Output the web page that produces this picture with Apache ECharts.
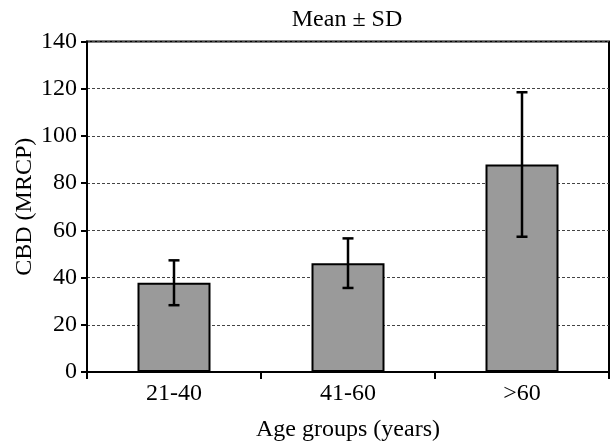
<!DOCTYPE html>
<html><head><meta charset="utf-8">
<script src="https://cdn.jsdelivr.net/npm/echarts@6/dist/echarts.min.js"></script>
<style>html,body{margin:0;padding:0;background:#fff}#c{width:612px;height:447px}</style>
</head><body><div id="c"></div>
<script>
const categories = ['21-40', '41-60', '>60'];
const means = [37.8, 46.1, 87.9];
const sds = [9.5, 10.5, 30.6];
const yTicks = [0, 20, 40, 60, 80, 100, 120, 140];

const F = 'Liberation Serif, Times New Roman, serif';
const FS = 24;
const chart = echarts.init(document.getElementById('c'), null, {renderer: 'canvas'});
const errData = categories.map((c, i) => [i, means[i] - sds[i], means[i] + sds[i]]);
chart.setOption({
  animation: false,
  title: {
    text: 'Mean \u00b1 SD', left: 342, top: 3, textAlign: 'center',
    textStyle: {fontFamily: F, fontSize: FS, fontWeight: 'normal', color: '#000'}
  },
  grid: {left: 87, right: 3, top: 41.5, bottom: 73.5, show: true, borderColor: '#000', borderWidth: 2, backgroundColor: 'transparent'},
  xAxis: {
    type: 'category', data: categories,
    name: 'Age groups (years)', nameLocation: 'middle', nameGap: 46, nameMoveOverlap: false,
    nameTextStyle: {fontFamily: F, fontSize: FS, color: '#000'},
    axisLine: {lineStyle: {color: '#000', width: 2}},
    axisTick: {show: true, length: 7, lineStyle: {color: '#000', width: 2}},
    axisLabel: {fontFamily: F, fontSize: FS, color: '#000', margin: 10},
    splitLine: {show: false}
  },
  yAxis: {
    type: 'value', min: 0, max: 140, interval: 20,
    name: 'CBD (MRCP)', nameLocation: 'middle', nameGap: 50, nameMoveOverlap: false,
    nameTextStyle: {fontFamily: F, fontSize: FS, color: '#000'},
    axisLine: {show: true, lineStyle: {color: '#000', width: 2}},
    axisTick: {show: true, length: 6, lineStyle: {color: '#000', width: 2}},
    axisLabel: {fontFamily: F, fontSize: FS, color: '#000', margin: 10,
      formatter: v => yTicks.includes(v) ? String(v) : ''},
    splitLine: {show: true, lineStyle: {color: '#444', width: 1, type: [3, 2]}}
  },
  series: [
    {
      type: 'bar', data: means, barWidth: 73,
      itemStyle: {color: '#9a9a9a', borderColor: '#000', borderWidth: 2}
    },
    {
      type: 'custom', data: errData, z: 10,
      renderItem: function (params, api) {
        const x = api.value(0);
        const lo = api.coord([x, api.value(1)]);
        const hi = api.coord([x, api.value(2)]);
        const hw = 5.5;
        const st = {stroke: '#000', lineWidth: 2.5};
        return {type: 'group', children: [
          {type: 'line', shape: {x1: hi[0], y1: hi[1], x2: lo[0], y2: lo[1]}, style: st},
          {type: 'line', shape: {x1: hi[0] - hw, y1: hi[1], x2: hi[0] + hw, y2: hi[1]}, style: st},
          {type: 'line', shape: {x1: lo[0] - hw, y1: lo[1], x2: lo[0] + hw, y2: lo[1]}, style: st}
        ]};
      }
    }
  ]
});
</script></body></html>
